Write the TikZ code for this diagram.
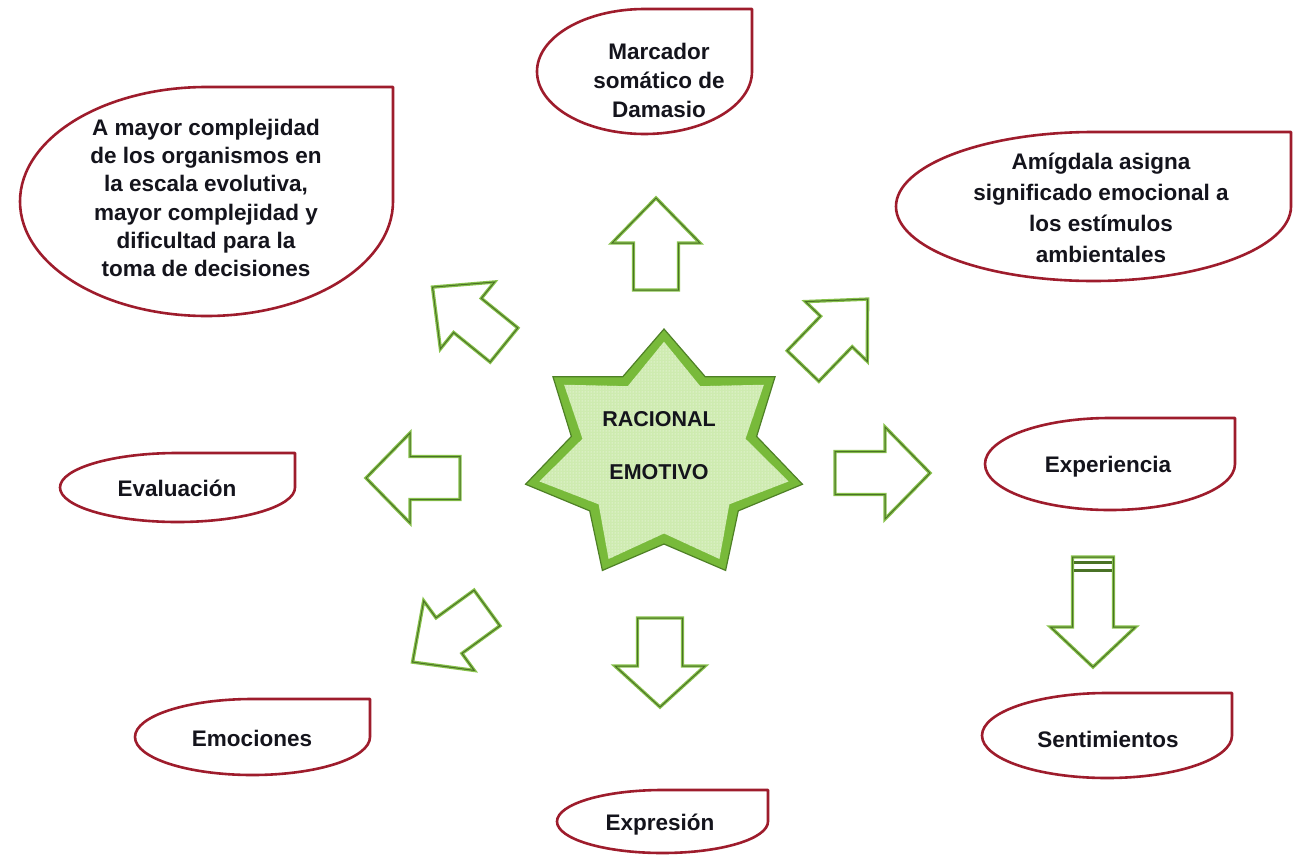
\documentclass[tikz,border=0pt]{standalone}
\usepackage{fontspec}
\setmainfont{Liberation Sans}
\usetikzlibrary{calc,patterns}

\definecolor{bubblered}{RGB}{158,28,44}
\definecolor{arrowgreen}{RGB}{136,194,76}
\definecolor{arrowdark}{RGB}{74,114,38}
\definecolor{starouter}{RGB}{120,186,58}
\definecolor{starinner}{RGB}{206,235,176}
\definecolor{stardark}{RGB}{78,128,38}
\definecolor{txt}{RGB}{20,20,28}

\tikzset{
  bubbleline/.style={draw=bubblered, line width=2.6pt, line join=round},
  lbl/.style={font=\bfseries\fontsize{22.5}{29}\selectfont, text=txt, align=center, inner sep=0pt},
  startxt/.style={font=\bfseries\fontsize{21.5}{26}\selectfont, text=txt, inner sep=0pt},
  starbase/.style={fill=starinner},
  stardots/.style={pattern=dots, pattern color=white},
  arrowbody/.style={fill=white, draw=arrowgreen, line width=3.4pt, line join=miter,
    postaction={draw=arrowdark, line width=1pt}},
  pics/blockarrow/.style n args={4}{% length, head length, shaft half width, head half width
    code={\path[arrowbody] (0,-#3) -- ({#1-#2},-#3) -- ({#1-#2},-#4) -- (#1,0)
      -- ({#1-#2},#4) -- ({#1-#2},#3) -- (0,#3) -- cycle;}},
}

% teardrop outline: left, top, right, bottom (square top-right corner)
\newcommand\bubble[4]{%
  \pgfmathsetmacro\bcx{(#1+#3)/2}\pgfmathsetmacro\bcy{(#2+#4)/2}%
  \pgfmathsetmacro\bkx{0.5523*(#3-#1)/2}\pgfmathsetmacro\bky{0.5523*(#4-#2)/2}%
  \pgfmathsetmacro\bya{\bcy+\bky}\pgfmathsetmacro\byb{\bcy-\bky}%
  \pgfmathsetmacro\bxa{\bcx+\bkx}\pgfmathsetmacro\bxb{\bcx-\bkx}%
  \draw[bubbleline] (\bcx,#2) -- (#3,#2) -- (#3,\bcy)
    .. controls (#3,\bya) and (\bxa,#4) .. (\bcx,#4)
    .. controls (\bxb,#4) and (#1,\bya) .. (#1,\bcy)
    .. controls (#1,\byb) and (\bxb,#2) .. (\bcx,#2) -- cycle;}

\begin{document}
\begin{tikzpicture}[x=1pt,y=-1pt]
\useasboundingbox (0,0) rectangle (1293,857);
\fill[white] (0,0) rectangle (1293,857);

% ---- central seven-point star ----
\coordinate (sc) at (664,456);
\foreach \k in {0,...,6} {
  \coordinate (o\k) at ({664+142*cos(90-\k*360/7)},{456-127*sin(90-\k*360/7)});
  \coordinate (i\k) at ({664+95*cos(90-(\k+0.5)*360/7)},{456-88*sin(90-(\k+0.5)*360/7)});
}
\fill[starouter] (o0) -- (i0) -- (o1) -- (i1) -- (o2) -- (i2) -- (o3) -- (i3)
  -- (o4) -- (i4) -- (o5) -- (i5) -- (o6) -- (i6) -- cycle;
\draw[stardark, line width=1.2pt, line join=miter] (o0) -- (i0) -- (o1) -- (i1) -- (o2) -- (i2) -- (o3) -- (i3)
  -- (o4) -- (i4) -- (o5) -- (i5) -- (o6) -- (i6) -- cycle;
\foreach \fillstyle in {starbase,stardots} {
  \path[\fillstyle] ($(sc)!0.9!(o0)$) -- ($(sc)!0.88!(i0)$) -- ($(sc)!0.9!(o1)$) -- ($(sc)!0.88!(i1)$)
    -- ($(sc)!0.9!(o2)$) -- ($(sc)!0.88!(i2)$) -- ($(sc)!0.9!(o3)$) -- ($(sc)!0.88!(i3)$)
    -- ($(sc)!0.9!(o4)$) -- ($(sc)!0.88!(i4)$) -- ($(sc)!0.9!(o5)$) -- ($(sc)!0.88!(i5)$)
    -- ($(sc)!0.9!(o6)$) -- ($(sc)!0.88!(i6)$) -- cycle;
}
\node[startxt] (rac) at (659,419) {RACIONAL};
\node[startxt] (emo) at (659,472) {EMOTIVO};

% ---- block arrows around the star ----
\pic[rotate=90]  at (656,290) {blockarrow={92}{45}{22.5}{44}};
\pic[rotate=46]  at (803,366) {blockarrow={93}{45}{22}{43}};
\pic[rotate=0]   at (835,473) {blockarrow={95}{45}{21.5}{46}};
\pic[rotate=270] at (660,618) {blockarrow={89}{41}{22.5}{45}};
\pic[rotate=216] at (487,608) {blockarrow={92}{45}{22}{43}};
\pic[rotate=180] at (460,478) {blockarrow={94}{44}{21.5}{45}};
\pic[rotate=141] at (504,345) {blockarrow={92}{45}{22}{43}};

% arrow from Experiencia down to Sentimientos
\pic[rotate=270] at (1093,557) {blockarrow={110}{40}{20.5}{42.5}};
\draw[arrowdark, line width=3pt] (1074,562) -- (1112,562);
\draw[arrowdark, line width=3pt] (1074,570) -- (1112,570);

% ---- outer bubbles ----
\bubble{537}{9}{752}{134}
\node[lbl] (marcador) at (659,80) {Marcador\\somático de\\Damasio};

\bubble{20}{87}{393}{316}
\node[lbl, font=\bfseries\fontsize{22.5}{28.3}\selectfont] (complejidad) at (206,198)
  {A mayor complejidad\\de los organismos en\\la escala evolutiva,\\mayor complejidad y\\dificultad para la\\toma de decisiones};

\bubble{896}{132}{1291}{281}
\node[lbl, font=\bfseries\fontsize{22.5}{31}\selectfont] (amigdala) at (1101,208)
  {Amígdala asigna\\significado emocional a\\los estímulos\\ambientales};

\bubble{60}{453}{295}{522}
\node[lbl] (evaluacion) at (177,488) {Evaluación};

\bubble{985}{418}{1235}{510}
\node[lbl] (experiencia) at (1108,467) {Experiencia};

\bubble{135}{699}{370}{775}
\node[lbl] (emociones) at (252,738) {Emociones};

\bubble{982}{693}{1232}{778}
\node[lbl] (sentimientos) at (1108,739) {Sentimientos};

\bubble{557}{790}{768}{853}
\node[lbl] (expresion) at (660,825) {Expresión};
\end{tikzpicture}
\end{document}
